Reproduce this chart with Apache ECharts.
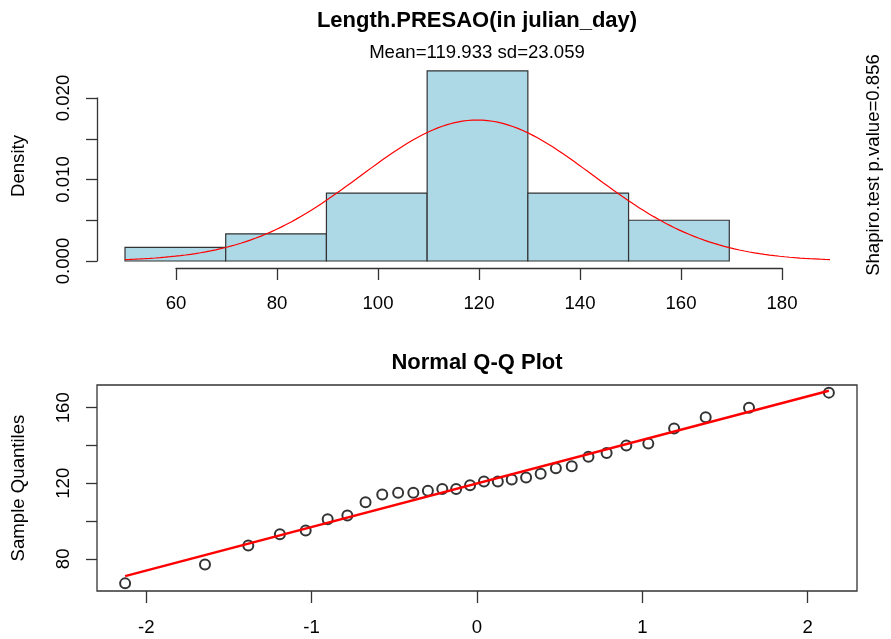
<!DOCTYPE html>
<html>
<head>
<meta charset="utf-8">
<script src="https://cdn.jsdelivr.net/npm/echarts@6/dist/echarts.min.js"></script>
<style>
html,body{margin:0;padding:0;background:#fff;}
#main{width:891px;height:639px;}
</style>
</head>
<body>
<div id="main"></div>
<script>
// ---- data ----
const binStart = [50, 70, 90, 110, 130, 150];
const binEnd = [70, 90, 110, 130, 150, 170];
const binDensity = [0.001667, 0.003333, 0.008333, 0.023333, 0.008333, 0.005];
const histXTicks = [60, 80, 100, 120, 140, 160, 180];
const histYLabels = ['0.000', '0.010', '0.020'];
const sampleMean = 119.933;
const sampleSd = 23.059;
const shapiroP = '0.856';
const theoreticalQuantiles = [-2.128, -1.645, -1.383, -1.192, -1.036, -0.903, -0.784, -0.674, -0.573, -0.477,
  -0.385, -0.297, -0.210, -0.126, -0.042, 0.042, 0.126, 0.210, 0.297, 0.385,
  0.477, 0.573, 0.674, 0.784, 0.903, 1.036, 1.192, 1.383, 1.645, 2.128];
const sampleQuantiles = [67, 77, 87, 93, 95, 101, 103, 110, 114, 115,
  115, 116, 117, 117, 119, 121, 121, 122, 123, 125,
  128, 129, 134, 136, 140, 141, 149, 155, 160, 168];
const qqLineX = [-2.128, 2.128];
const qqLineY = [70.86, 169.0];
const qqXTicks = [-2, -1, 0, 1, 2];
const qqYTicks = [80, 100, 120, 140, 160];
const qqYLabels = [80, 120, 160];

// ---- derived ----
const histData = binStart.map((s, i) => [s, binEnd[i], binDensity[i]]);
const curve = [];
for (let x = 50; x <= 190; x += 1) {
  const z = (x - sampleMean) / sampleSd;
  curve.push([x, Math.exp(-0.5 * z * z) / (sampleSd * Math.sqrt(2 * Math.PI))]);
}
const qqPoints = theoreticalQuantiles.map((q, i) => [q, sampleQuantiles[i]]);
const qqLine = qqLineX.map((x, i) => [x, qqLineY[i]]);

const FONT = '"Liberation Sans", Arial, sans-serif';
const AX = '#333';
const LF = 18.6;
const chart = echarts.init(document.getElementById('main'), null, {renderer: 'canvas'});
const hidden = {show: false};

chart.setOption({
  animation: false,
  backgroundColor: '#fff',
  textStyle: {fontFamily: FONT},
  grid: [
    {left: 125, right: 61, top: 69.5, bottom: 378},
    {left: 176, right: 109, top: 98, bottom: 378},
    {left: 97, right: 34, top: 385, bottom: 48, show: true, borderColor: AX, borderWidth: 1.3, backgroundColor: 'transparent'}
  ],
  xAxis: [
    {gridIndex: 0, type: 'value', min: 50, max: 190, axisLine: hidden, axisTick: hidden, axisLabel: hidden, splitLine: hidden},
    {gridIndex: 1, type: 'value', min: 60, max: 180, interval: 20, offset: 7,
      axisLine: {show: true, onZero: false, lineStyle: {color: AX, width: 1.3}},
      axisTick: {show: true, length: 12, lineStyle: {color: AX, width: 1.3}},
      axisLabel: {show: true, color: '#000', fontSize: LF, fontFamily: FONT, margin: 26,
        customValues: histXTicks},
      splitLine: hidden},
    {gridIndex: 2, type: 'value', min: -2.298, max: 2.298,
      axisLine: {show: false, onZero: false},
      axisTick: {show: true, length: 12, lineStyle: {color: AX, width: 1.3}, customValues: qqXTicks},
      axisLabel: {show: true, color: '#000', fontSize: LF, fontFamily: FONT, margin: 27, customValues: qqXTicks},
      splitLine: hidden}
  ],
  yAxis: [
    {gridIndex: 0, type: 'value', min: 0, max: 0.0235, axisLine: hidden, axisTick: hidden, axisLabel: hidden, splitLine: hidden},
    {gridIndex: 1, type: 'value', min: 0, max: 0.02, interval: 0.005, offset: 79,
      axisLine: {show: true, onZero: false, lineStyle: {color: AX, width: 1.3}},
      axisTick: {show: true, length: 11, lineStyle: {color: AX, width: 1.3}},
      axisLabel: {show: true, color: '#000', fontSize: LF, fontFamily: FONT, rotate: 90, margin: 24,
        formatter: v => {
          const k = Math.round(v * 1000);
          return (k % 10 === 0) ? histYLabels[k / 10] : '';
        }},
      splitLine: hidden},
    {gridIndex: 2, type: 'value', min: 62.96, max: 172.04,
      axisLine: {show: false, onZero: false},
      axisTick: {show: true, length: 11, lineStyle: {color: AX, width: 1.3}, customValues: qqYTicks},
      axisLabel: {show: true, color: '#000', fontSize: LF, fontFamily: FONT, rotate: 90, margin: 24, customValues: qqYLabels},
      splitLine: hidden}
  ],
  series: [
    {
      type: 'custom', xAxisIndex: 0, yAxisIndex: 0,
      data: histData,
      encode: {x: [0, 1], y: 2},
      renderItem: (params, api) => {
        const p0 = api.coord([api.value(0), api.value(2)]);
        const p1 = api.coord([api.value(1), 0]);
        return {
          type: 'rect',
          shape: {x: p0[0], y: p0[1], width: p1[0] - p0[0], height: p1[1] - p0[1]},
          style: {fill: '#ADD8E6', stroke: '#333', lineWidth: 1.2}
        };
      },
      z: 2
    },
    {
      type: 'line', xAxisIndex: 0, yAxisIndex: 0, data: curve, showSymbol: false, symbol: 'none',
      lineStyle: {color: '#FF0000', width: 1.2}, z: 3
    },
    {
      type: 'scatter', xAxisIndex: 2, yAxisIndex: 2, data: qqPoints,
      symbol: 'emptyCircle', symbolSize: 10,
      itemStyle: {color: '#000', borderColor: '#000', borderWidth: 2.5}, z: 3
    },
    {
      type: 'line', xAxisIndex: 2, yAxisIndex: 2, data: qqLine, showSymbol: false, symbol: 'none',
      lineStyle: {color: '#FF0000', width: 2.4}, z: 4
    }
  ],
  graphic: [
    {type: 'text', x: 477, y: 21, style: {text: 'Length.PRESAO(in julian_day)', font: 'bold 22px ' + FONT, fill: '#000', textAlign: 'center', textVerticalAlign: 'middle'}},
    {type: 'text', x: 477, y: 53, style: {text: 'Mean=' + sampleMean.toFixed(3) + ' sd=' + sampleSd.toFixed(3), font: LF + 'px ' + FONT, fill: '#000', textAlign: 'center', textVerticalAlign: 'middle'}},
    {type: 'text', x: 19, y: 166, rotation: Math.PI / 2, style: {text: 'Density', font: LF + 'px ' + FONT, fill: '#000', textAlign: 'center', textVerticalAlign: 'middle'}},
    {type: 'text', x: 874, y: 165, rotation: Math.PI / 2, style: {text: 'Shapiro.test p.value=' + shapiroP, font: LF + 'px ' + FONT, fill: '#000', textAlign: 'center', textVerticalAlign: 'middle'}},
    {type: 'text', x: 477, y: 363, style: {text: 'Normal Q-Q Plot', font: 'bold 22px ' + FONT, fill: '#000', textAlign: 'center', textVerticalAlign: 'middle'}},
    {type: 'text', x: 19, y: 488, rotation: Math.PI / 2, style: {text: 'Sample Quantiles', font: LF + 'px ' + FONT, fill: '#000', textAlign: 'center', textVerticalAlign: 'middle'}}
  ]
});
</script>
</body>
</html>
